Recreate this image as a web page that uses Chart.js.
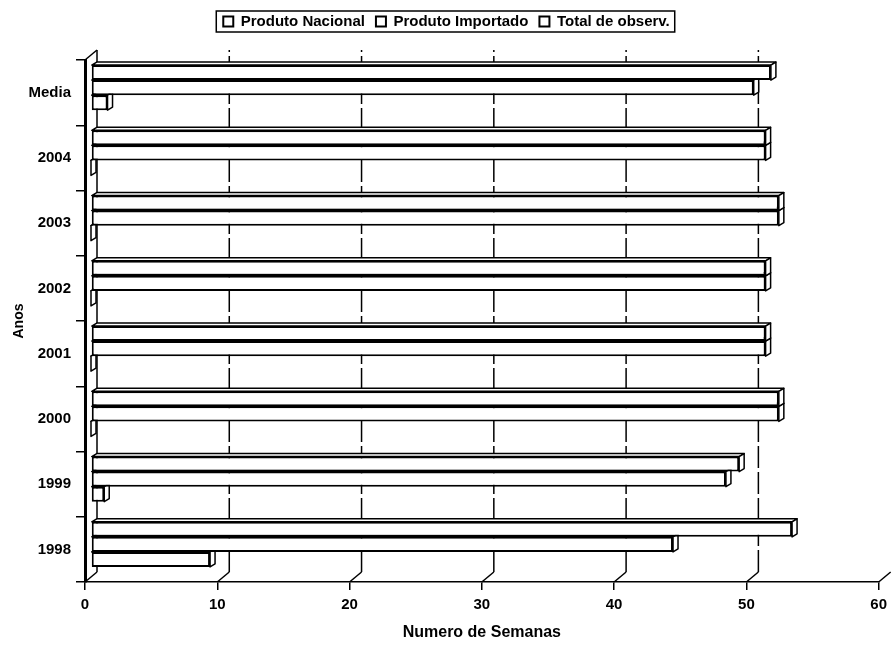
<!DOCTYPE html>
<html>
<head>
<meta charset="utf-8">
<script src="https://cdn.jsdelivr.net/npm/chart.js@4.4.1/dist/chart.umd.min.js"></script>
<style>
html,body{margin:0;padding:0;background:#fff;}
#wrap{width:893px;height:648px;position:relative;}
</style>
</head>
<body>
<div id="wrap"><canvas id="c"></canvas></div>
<script>
// ---- data ----
const categories = ['Media', '2004', '2003', '2002', '2001', '2000', '1999', '1998'];
const totalObserv = [51.4, 51, 52, 51, 51, 52, 49, 53];
const produtoImportado = [50.1, 51, 52, 51, 51, 52, 48, 44];
const produtoNacional = [1.25, 0, 0, 0, 0, 0, 1, 9];
const xTicks = [0, 10, 20, 30, 40, 50, 60];
const xTitle = 'Numero de Semanas';
const yTitle = 'Anos';

const FONT = "'Liberation Sans', Arial, Helvetica, sans-serif";
const D = {wallX: 12, wallY: 10, shiftX: 6, shiftY: -5, faceX: 5, faceY: 3};

const wall3d = {
  id: 'wall3d',
  beforeDatasetsDraw(chart) {
    const {ctx, chartArea: a, scales: {x}} = chart;
    ctx.save();
    ctx.strokeStyle = '#000';
    ctx.lineWidth = 1.5;
    const maxV = xTicks[xTicks.length - 1];
    xTicks.forEach(v => {
      const px = x.getPixelForValue(v);
      ctx.setLineDash([]);
      ctx.beginPath();
      ctx.moveTo(px, a.bottom);
      ctx.lineTo(px + D.wallX, a.bottom - D.wallY);
      ctx.stroke();
      if (v < maxV) {
        ctx.setLineDash(v === 0 ? [] : [22, 4]);
        ctx.beginPath();
        ctx.moveTo(px + D.wallX, a.bottom - D.wallY);
        ctx.lineTo(px + D.wallX, a.top - D.wallY);
        ctx.stroke();
      }
    });
    ctx.setLineDash([]);
    ctx.beginPath();
    ctx.moveTo(a.left, a.top);
    ctx.lineTo(a.left + D.wallX, a.top - D.wallY);
    ctx.stroke();
    ctx.restore();
    ctx.save();
    ctx.translate(D.shiftX, D.shiftY);
  },
  beforeDatasetDraw(chart, args) {
    const ctx = chart.ctx;
    ctx.save();
    ctx.fillStyle = '#fff';
    ctx.strokeStyle = '#000';
    ctx.lineWidth = 1.5;
    ctx.lineJoin = 'round';
    args.meta.data.forEach(bar => {
      const p = bar.getProps(['x', 'y', 'base', 'height'], true);
      const x1 = Math.min(p.x, p.base), x2 = Math.max(p.x, p.base);
      const y1 = p.y - p.height / 2, y2 = p.y + p.height / 2;
      ctx.beginPath();
      ctx.moveTo(x1, y1);
      ctx.lineTo(x1 + D.faceX, y1 - D.faceY);
      ctx.lineTo(x2 + D.faceX, y1 - D.faceY);
      ctx.lineTo(x2, y1);
      ctx.closePath();
      ctx.fill(); ctx.stroke();
      ctx.beginPath();
      ctx.moveTo(x2, y1);
      ctx.lineTo(x2 + D.faceX, y1 - D.faceY);
      ctx.lineTo(x2 + D.faceX, y2 - D.faceY);
      ctx.lineTo(x2, y2);
      ctx.closePath();
      ctx.fill(); ctx.stroke();
    });
    ctx.restore();
  },
  afterDatasetsDraw(chart) {
    chart.ctx.restore();
  }
};

const legendBox = {
  id: 'legendBox',
  afterDraw(chart) {
    const lg = chart.legend;
    if (!lg || !lg.legendHitBoxes || !lg.legendHitBoxes.length) return;
    let minX = Infinity, maxX = -Infinity, minY = Infinity, maxY = -Infinity;
    lg.legendHitBoxes.forEach(h => {
      minX = Math.min(minX, h.left); maxX = Math.max(maxX, h.left + h.width);
      minY = Math.min(minY, h.top); maxY = Math.max(maxY, h.top + h.height);
    });
    const ctx = chart.ctx;
    ctx.save();
    ctx.strokeStyle = '#000';
    ctx.lineWidth = 1.5;
    ctx.strokeRect(minX - 7, minY - 3, (maxX - minX) + 12, (maxY - minY) + 6);
    ctx.restore();
  }
};

const barStyle = {backgroundColor: '#fff', borderColor: '#000', borderWidth: 2, borderSkipped: false, clip: false};

new Chart(document.getElementById('c'), {
  type: 'bar',
  data: {
    labels: categories,
    datasets: [
      Object.assign({label: 'Total de observ.', data: totalObserv}, barStyle),
      Object.assign({label: 'Produto Importado', data: produtoImportado}, barStyle),
      Object.assign({label: 'Produto Nacional', data: produtoNacional}, barStyle)
    ]
  },
  options: {
    indexAxis: 'y',
    responsive: true,
    maintainAspectRatio: false,
    animation: false,
    layout: {padding: {top: 3, right: 11, left: 11, bottom: 0}},
    datasets: {bar: {categoryPercentage: 0.69, barPercentage: 1}},
    plugins: {
      legend: {
        position: 'top',
        reverse: true,
        labels: {
          font: {family: FONT, size: 15, weight: 'bold'},
          color: '#000',
          boxWidth: 10,
          boxHeight: 10,
          padding: 11
        }
      },
      title: {display: true, text: '', weight: 500, padding: {top: 0, bottom: 9}, font: {size: 12, lineHeight: 1}},
      tooltip: {enabled: false}
    },
    scales: {
      x: {
        type: 'linear',
        min: xTicks[0],
        max: xTicks[xTicks.length - 1],
        afterBuildTicks(s) { s.ticks = xTicks.map(v => ({value: v})); },
        ticks: {font: {family: FONT, size: 15, weight: 'bold'}, color: '#000', padding: 6},
        grid: {drawOnChartArea: false, drawTicks: true, tickLength: 8, color: '#000', lineWidth: 1.5},
        border: {display: true, color: '#000', width: 1.5},
        title: {display: true, text: xTitle, font: {family: FONT, size: 16, weight: 'bold'}, color: '#000', padding: {top: 0, bottom: 6}},
        afterFit(s) { s.height = 66; }
      },
      y: {
        type: 'category',
        grid: {offset: true, drawOnChartArea: false, drawTicks: true, tickLength: 9, color: '#000', lineWidth: 1.5},
        border: {display: true, color: '#000', width: 3},
        ticks: {font: {family: FONT, size: 15, weight: 'bold'}, color: '#000', padding: 5},
        title: {display: true, text: yTitle, font: {family: FONT, size: 14, weight: 'bold'}, color: '#000', padding: {top: 0, bottom: 0}},
        afterFit(s) { s.width = 74; }
      }
    }
  },
  plugins: [wall3d, legendBox]
});
</script>
</body>
</html>
